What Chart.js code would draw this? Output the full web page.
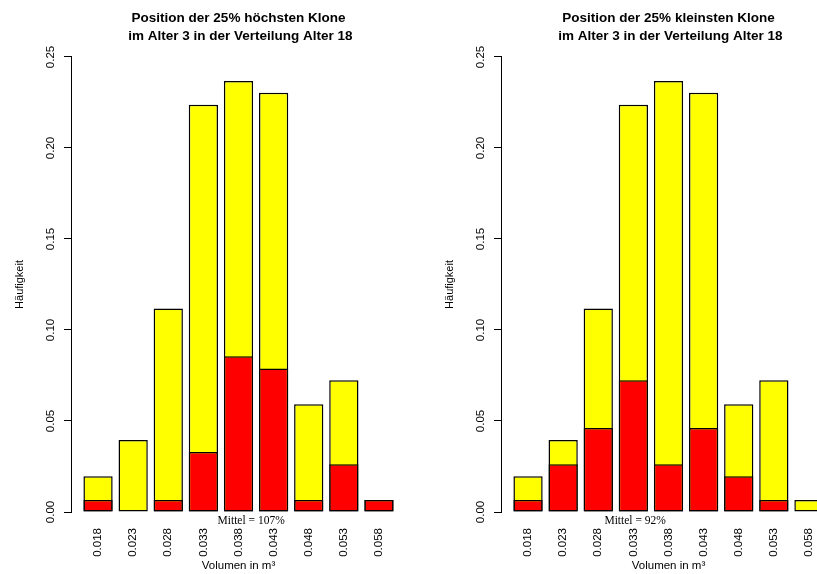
<!DOCTYPE html>
<html>
<head>
<meta charset="utf-8">
<script src="https://cdn.jsdelivr.net/npm/chart.js@4"></script>
<style>
  html, body { margin: 0; padding: 0; background: #fff; overflow: hidden; }
  #wrap { position: relative; width: 817px; height: 574px; overflow: hidden; }
  .panel { position: absolute; top: 0; }
</style>
</head>
<body>
<div id="wrap">
  <canvas id="left" class="panel" width="436" height="574" style="left:0"></canvas>
  <canvas id="right" class="panel" width="436" height="574" style="left:430px"></canvas>
</div>
<script>
// ── data ──
const categories = ['0.018', '0.023', '0.028', '0.033', '0.038', '0.043', '0.048', '0.053', '0.058'];
const yTicks = [0, 0.05, 0.10, 0.15, 0.20, 0.25];

// full distribution age 18 (yellow)
const totalFreq = [0.0197, 0.0395, 0.1118, 0.2237, 0.2368, 0.2303, 0.0592, 0.0724, 0.0066];
// 25% tallest clones at age 3 (red, left)
const tallestFreq = [0.0066, 0, 0.0066, 0.0329, 0.0855, 0.0789, 0.0066, 0.0263, 0.0066];
// 25% smallest clones at age 3 (red, right)
const smallestFreq = [0.0066, 0.0263, 0.0461, 0.0724, 0.0263, 0.0461, 0.0197, 0.0066, 0];

const titles = [
    ['Position der 25% höchsten Klone', ' im Alter 3 in der Verteilung Alter 18'],
    ['Position der 25% kleinsten Klone', ' im Alter 3 in der Verteilung Alter 18'],
];
const meanLabels = ['Mittel = 107%', 'Mittel = 92%'];
const meanPos = [4.36, 3.05];   // position of the mean label, in category units

const SANS = '"Liberation Sans", Arial, Helvetica, sans-serif';
const SERIF = '"Liberation Serif", "Times New Roman", serif';

// "Mittel = ..." text under the bars
const meanLabelPlugin = {
    id: 'meanLabel',
    afterDatasetsDraw(chart, args, opts) {
        const { ctx, scales: { x, y } } = chart;
        ctx.save();
        ctx.font = '11.5px ' + SERIF;
        ctx.fillStyle = '#000';
        ctx.textAlign = 'center';
        ctx.textBaseline = 'middle';
        ctx.fillText(opts.text, x.getPixelForValue(opts.pos), y.getPixelForValue(0) + 9);
        ctx.restore();
    }
};

function makePanel(canvasId, title, redData, meanText, meanX) {
    const ctx = document.getElementById(canvasId).getContext('2d');
    new Chart(ctx, {
        type: 'bar',
        data: {
            datasets: [
                {
                    label: 'Alter 3',
                    data: redData.map((v, i) => ({ x: i, y: v })),
                    backgroundColor: '#ff0000',
                    borderColor: '#000',
                    borderWidth: 1.5,
                    borderSkipped: false,
                    grouped: false,
                    order: 0,
                },
                {
                    label: 'Alter 18',
                    data: totalFreq.map((v, i) => ({ x: i, y: v })),
                    backgroundColor: '#ffff00',
                    borderColor: '#000',
                    borderWidth: 1.5,
                    borderSkipped: false,
                    grouped: false,
                    order: 1,
                },
            ]
        },
        options: {
            responsive: false,
            animation: false,
            devicePixelRatio: 1,
            barPercentage: 1 / 1.2,
            categoryPercentage: 1,
            layout: { padding: { left: 0, right: 30, top: 0, bottom: 0 } },
            plugins: {
                legend: { display: false },
                tooltip: { enabled: false },
                title: {
                    display: true,
                    fullSize: false,
                    text: title,
                    color: '#000',
                    font: { family: SANS, size: 13.5, weight: 'bold', lineHeight: 1.35 },
                    padding: { top: 9, bottom: 11.5 },
                },
                meanLabel: { text: meanText, pos: meanX },
            },
            scales: {
                x: {
                    type: 'linear',
                    offset: false,
                    min: -0.77,
                    max: 8.77,
                    afterBuildTicks: (s) => { s.ticks = categories.map((c, i) => ({ value: i })); },
                    afterFit: (s) => { s.height = 62; s.paddingLeft = 0; s.paddingRight = 0; },
                    grid: { display: false, drawTicks: false },
                    border: { display: false },
                    ticks: {
                        autoSkip: false,
                        minRotation: 90,
                        maxRotation: 90,
                        padding: 16,
                        color: '#000',
                        font: { family: SANS, size: 11.5 },
                        callback: (v) => categories[v],
                    },
                    title: {
                        display: true,
                        text: 'Volumen in m³',
                        color: '#000',
                        font: { family: SANS, size: 11.5 },
                        padding: { top: 0, bottom: 1 },
                    },
                },
                y: {
                    min: 0,
                    max: 0.25,
                    afterBuildTicks: (s) => { s.ticks = yTicks.map(v => ({ value: v })); },
                    afterFit: (s) => { s.width = 71; s.paddingTop = 0; s.paddingBottom = 0; },
                    grid: {
                        drawOnChartArea: false,
                        color: '#000',
                        tickLength: 7,
                        tickWidth: 1,
                    },
                    border: { display: true, color: '#000', width: 1 },
                    ticks: {
                        minRotation: 90,
                        maxRotation: 90,
                        crossAlign: 'center',
                        padding: 2,
                        color: '#000',
                        font: { family: SANS, size: 11.5 },
                        callback: (v) => v.toFixed(2),
                    },
                    title: {
                        display: true,
                        text: 'Häufigkeit',
                        color: '#000',
                        font: { family: SANS, size: 11 },
                        padding: { top: 13, bottom: 0 },
                    },
                },
            },
        },
        plugins: [meanLabelPlugin],
    });
}

makePanel('left', titles[0], tallestFreq, meanLabels[0], meanPos[0]);
makePanel('right', titles[1], smallestFreq, meanLabels[1], meanPos[1]);
</script>
</body>
</html>
